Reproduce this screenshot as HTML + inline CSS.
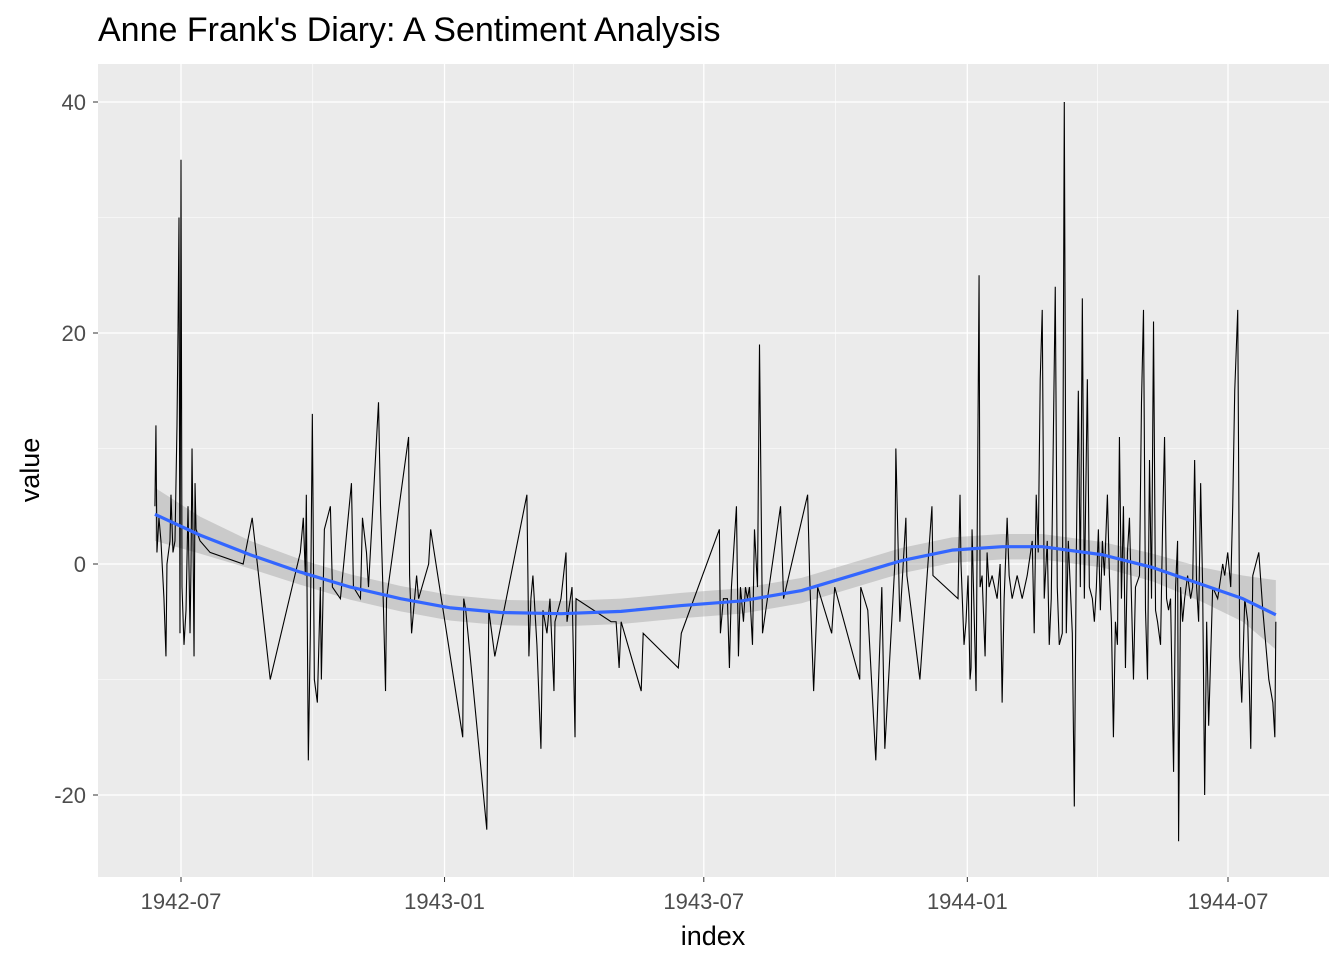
<!DOCTYPE html>
<html><head><meta charset="utf-8"><style>
body{margin:0;background:#fff;font-family:"Liberation Sans",sans-serif;}
svg{display:block}
</style></head><body>
<svg id="chart" width="1344" height="960">
<text x="98" y="41" font-size="34" fill="#000">Anne Frank's Diary: A Sentiment Analysis</text>
<rect x="98" y="64" width="1231" height="813" fill="#ebebeb"/>
<g id="grid"></g><g id="band"></g><g id="series"></g><g id="smooth"></g><g id="axes"></g>
<text x="713" y="945" font-size="27" text-anchor="middle" fill="#000">index</text>
<text transform="translate(39,470) rotate(-90)" font-size="27" text-anchor="middle" fill="#000">value</text>
</svg>
<script>
const days=[-18.2,-17.5,-16.8,-15.4,-14,-11.9,-10.5,-9.8,-7.7,-7,-5.6,-4.2,-2.8,-2.1,-1.4,-0.7,0,0.7,2.1,3.5,4.9,6.3,7,7.7,8.4,9.1,9.8,10.5,13.3,20.3,43.4,49.7,62.3,83.3,85.4,86.8,87.5,88.9,90.3,91.7,93.1,95.2,97.3,98,100.1,104.3,105.7,111.3,119,120.4,125.3,126.7,129.5,130.9,137.9,139.3,141.4,142.8,143.5,158.9,159.6,161,164.5,165.9,172.9,174.3,196.7,197.4,198.8,213.5,214.9,219.1,241.5,242.9,244.3,245.7,248.5,251.3,252.7,255.5,257.6,260.4,261.1,265.3,268.8,269.5,273,275.1,275.8,300.3,303.8,305.9,307.3,321.3,322.7,347.2,349.3,375.9,376.6,378.7,381.5,382.9,384.3,387.8,389.2,390.6,392.7,394.1,395.5,396.9,399,400.4,402.5,403.9,406,418.6,420.7,437.5,438.9,441.7,444.5,454.3,456.4,473.9,474.6,479.5,485.1,489.3,491.4,498.4,499.1,501.9,506.1,506.8,515.9,524.3,525,542.5,543.9,544.6,546.7,548.1,549.5,550.9,551.6,552.3,553.7,555.1,555.8,557.2,557.9,559.3,561.4,562.8,564.2,566.3,569.8,571.9,573.3,574.7,576.8,578.2,580.3,583.8,587.3,590.8,594.3,595.7,597.1,598.5,599.9,601.3,602.7,604.8,606.2,607.6,610.4,611.8,613.2,615.3,616.7,618.1,619.5,620.9,622.3,623.7,625.1,626.5,627.9,629.3,630.7,632.8,634.2,636.3,637.7,639.1,640.5,641.9,643.3,644.7,646.8,648.2,649.6,651,652.4,653.8,655.2,656.6,658,659.4,660.8,662.2,663.6,665,666.4,669.2,670.6,672,673.4,674.8,676.2,677.6,679,680.4,681.8,683.9,685.3,686.7,688.1,689.5,690.9,693,694.4,695.8,696.5,697.9,699.3,700.7,702.8,704.9,706.3,707.7,709.1,710.5,711.9,713.3,714.7,716.1,717.5,720.3,723.8,727.3,728.7,730.8,732.9,734.3,735.7,737.8,739.2,740.6,742.7,744.8,746.9,748.3,750.4,752.5,755.3,759.5,762.3,763.7,764.4];
const values=[5,12,1,4,2,-3,-8,0,2,6,1,2,12,20,30,-6,35,-2,-7,-4,5,-6,0,10,2,-8,7,3,2,1,0,4,-10,1,4,-1,6,-17,-6,13,-10,-12,-2,-10,3,5,-2,-3,7,-2,-3,4,1,-2,14,5,-4,-11,-3,11,-1,-6,-1,-3,0,3,-15,-3,-4,-23,-4,-8,6,-8,-3,-1,-7,-16,-4,-6,-3,-11,-5,-3,1,-5,-2,-15,-3,-5,-5,-9,-5,-11,-6,-9,-6,3,-6,-3,-3,-9,-2,5,-8,-2,-5,-2,-3,-2,-7,3,-2,19,-6,5,-3,6,-1,-11,-2,-6,-2,-10,-2,-4,-17,-2,-16,0,10,-5,4,-1,-10,5,-1,-3,6,0,-7,-5,-1,-10,-9,3,-4,-11,1,25,-2,-1,-8,1,-2,-1,-3,0,-12,-3,4,-1,-3,-1,-3,-1,2,-6,6,1,16,22,-3,2,-7,-3,24,-2,-7,-6,40,-6,2,-2,-6,-21,1,15,-2,23,-3,16,-2,-3,-5,-2,3,-4,2,-1,6,-1,-5,-15,-5,-7,11,-3,5,-9,1,4,-3,-10,-2,-1,14,22,-4,-10,9,-3,21,-4,-5,-7,3,11,-3,-4,-3,-18,-2,2,-24,-2,-5,-3,-1,-3,-2,9,-2,-5,7,-2,-20,-5,-14,-2,-3,0,-1,1,-2,5,15,22,-8,-12,-3,-5,-16,-1,0,1,-4,-10,-12,-15,-5];
const smoothDays=[-18.2,13.3,48.3,83.3,118.3,153.3,188.3,223.3,265.3,307.3,349.3,391.3,433.3,468.3,503.3,538.3,573.3,601.3,643.3,678.3,713.3,741.3,764.4];
const smoothFit=[4.3,2.5,0.8,-0.7,-2,-3,-3.8,-4.2,-4.3,-4.1,-3.6,-3.2,-2.3,-1,0.3,1.2,1.5,1.5,0.8,-0.3,-1.8,-3,-4.4];
const smoothSe=[2.3,1.6,1.2,1.1,1.1,1.1,1.1,1.1,1.1,1.1,1.1,1.1,1.1,1.1,1.1,1.1,1.1,1.1,1.1,1.2,1.5,2,3];
const yTicks=[-20,0,20,40];
const yMinor=[-30,-10,10,30];
const xTickDays=[0,184,365,549,731];
const xTickLabels=["1942-07","1943-01","1943-07","1944-01","1944-07"];
const xMinorDays=[92,274,457,640];

const NS="http://www.w3.org/2000/svg";
const X=d=>181+d*(1047/731);
const Y=v=>564-v*11.55;
function mk(tag,attrs,parent){const e=document.createElementNS(NS,tag);for(const k in attrs)e.setAttribute(k,attrs[k]);parent.appendChild(e);return e;}
const grid=document.getElementById('grid'),axes=document.getElementById('axes');
yMinor.forEach(v=>{const y=Y(v);if(y<64||y>877)return;const l=mk('line',{x1:98,x2:1329,y1:y,y2:y,stroke:'#fff','stroke-width':0.6},grid);

});
xMinorDays.forEach(d=>{const x=X(d);const l=mk('line',{x1:x,x2:x,y1:64,y2:877,stroke:'#fff','stroke-width':0.6},grid);

});
yTicks.forEach(v=>{const y=Y(v);const l=mk('line',{x1:98,x2:1329,y1:y,y2:y,stroke:'#fff','stroke-width':1.3},grid);


const t=mk('line',{x1:93,x2:98,y1:y,y2:y,stroke:'#333','stroke-width':1},axes);


const tx=mk('text',{x:86,y:y+8,'font-size':22,'text-anchor':'end',fill:'#4d4d4d'},axes);tx.textContent=v;

});
xTickDays.forEach((d,i)=>{const x=X(d);const l=mk('line',{x1:x,x2:x,y1:64,y2:877,stroke:'#fff','stroke-width':1.3},grid);


const t=mk('line',{x1:x,x2:x,y1:877,y2:882,stroke:'#333','stroke-width':1},axes);


const tx=mk('text',{x:x,y:909,'font-size':22,'text-anchor':'middle',fill:'#4d4d4d'},axes);tx.textContent=xTickLabels[i];

});
let up=smoothDays.map((d,i)=>X(d)+','+Y(smoothFit[i]+smoothSe[i]));
let lo=smoothDays.map((d,i)=>X(d)+','+Y(smoothFit[i]-smoothSe[i])).reverse();
const band=mk('polygon',{points:up.concat(lo).join(' '),fill:'#999','fill-opacity':0.4},document.getElementById('band'));


const line=mk('polyline',{points:days.map((d,i)=>X(d)+','+Y(values[i])).join(' '),fill:'none',stroke:'#000','stroke-width':1.1},document.getElementById('series'));


const sm=mk('polyline',{points:smoothDays.map((d,i)=>X(d)+','+Y(smoothFit[i])).join(' '),fill:'none',stroke:'#3366ff','stroke-width':3.2,'stroke-linejoin':'round'},document.getElementById('smooth'));


</script>
</body></html>
